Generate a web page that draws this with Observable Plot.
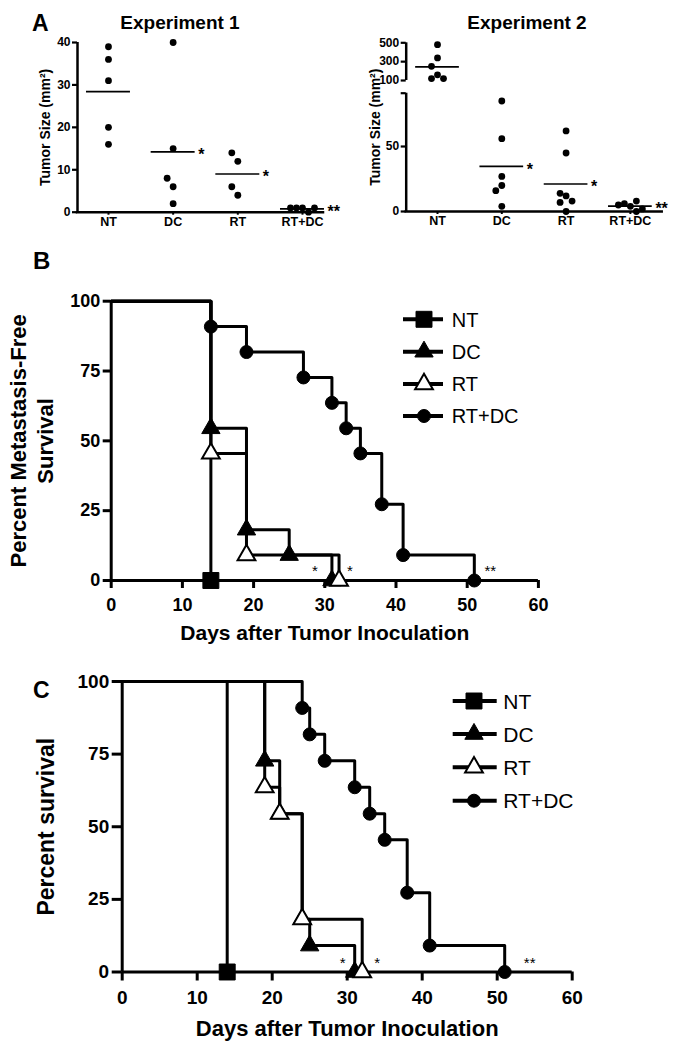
<!DOCTYPE html>
<html>
<head>
<meta charset="utf-8">
<title>Tumor size and survival</title>
<script src="https://cdn.jsdelivr.net/npm/d3@7"></script>
<script src="https://cdn.jsdelivr.net/npm/@observablehq/plot@0.6"></script>
<style>
  html, body { margin: 0; padding: 0; background: #fff; }
  #fig { position: relative; width: 687px; height: 1050px; overflow: hidden; background: #fff;
         font-family: "Liberation Sans", Arial, Helvetica, sans-serif; color: #000; }
  #fig > * { position: absolute; }
  .t { font-weight: bold; line-height: 1; white-space: nowrap; }
</style>
</head>
<body>
<div id="fig"></div>
<script>
// ---------------- data ----------------
const groups = ["NT", "DC", "RT", "RT+DC"];

// Panel A – Experiment 1: tumor size (mm²) of each mouse
const exp1NT   = [39, 36, 31, 20, 16];
const exp1DC   = [40, 15, 6, 2, 8];
const exp1RT   = [12, 4, 14, 6];
const exp1RTDC = [1, 1, 0, 1, 1];
const exp1Sig  = ["", "*", "*", "**"];
const exp1YTicks = [0, 10, 20, 30, 40];

// Panel A – Experiment 2
const exp2NT   = [480, 340, 250, 160, 120, 120];
const exp2DC   = [85, 56, 27, 20, 16, 4];
const exp2RT   = [62, 45, 12, 14, 8, 7, 0];
const exp2RTDC = [4, 6, 8, 5, 2, 0];
const exp2Sig  = ["", "*", "*", "**"];
const exp2YTicks = [0, 50, 100, 300, 500];
const exp2AxisBreak = [91, 100];   // lower axis segment ends / upper segment starts

// Panel B – metastasis-free survival (Kaplan–Meier steps)
const mfsNTDays   = [0, 14];
const mfsNTPct    = [100, 0];
const mfsDCDays   = [0, 14, 19, 25, 31];
const mfsDCPct    = [100, 54.5, 18.2, 9.1, 0];
const mfsRTDays   = [0, 14, 19, 32];
const mfsRTPct    = [100, 45.5, 9.1, 0];
const mfsRTDCDays = [0, 14, 19, 27, 31, 33, 35, 38, 41, 51];
const mfsRTDCPct  = [100, 90.9, 81.8, 72.7, 63.6, 54.5, 45.5, 27.3, 9.1, 0];
const mfsSig      = ["", "*", "*", "**"];

// Panel C – overall survival
const osNTDays   = [0, 14];
const osNTPct    = [100, 0];
const osDCDays   = [0, 19, 21, 24, 25, 31];
const osDCPct    = [100, 72.7, 54.5, 18.2, 9.1, 0];
const osRTDays   = [0, 19, 21, 24, 32];
const osRTPct    = [100, 63.6, 54.5, 18.2, 0];
const osRTDCDays = [0, 24, 25, 27, 31, 33, 35, 38, 41, 51];
const osRTDCPct  = [100, 90.9, 81.8, 72.7, 63.6, 54.5, 45.5, 27.3, 9.1, 0];
const osSig      = ["", "*", "*", "**"];

const survXTicks = [0, 10, 20, 30, 40, 50, 60];
const survYTicks = [0, 25, 50, 75, 100];

// ---------------- helpers ----------------
const FONT = '"Liberation Sans", Arial, Helvetica, sans-serif';
const fig = document.getElementById("fig");
function place(node, left, top) {
  node.style.left = left + "px";
  node.style.top = top + "px";
  fig.appendChild(node);
  return node;
}
function label(text, left, top, size, center) {
  const d = document.createElement("div");
  d.className = "t";
  d.textContent = text;
  d.style.fontSize = size + "px";
  if (center) d.style.transform = "translateX(-50%)";
  return place(d, left, top);
}

// side-by-side placement of dots whose values are too close (pixel space)
function jitterOffsets(pixYs, thresh = 9, step = 6) {
  const placed = [];
  const cands = [0];
  for (let j = 1; j < 12; j++) cands.push(-j, j);
  return pixYs.map(py => {
    const near = placed.filter(p => Math.abs(p.py - py) < thresh);
    const c = cands.find(c => !near.some(p => p.c === c));
    placed.push({py, c});
    return c * step;
  });
}

function scatterPanel(cfg) {
  const {values, sig, xDomain, yDomain, width, height, marginLeft, marginRight,
         marginTop, marginBottom, yTicks, hideTick, segments, yLabelDx} = cfg;
  const fwd = cfg.fwd ?? (v => v);
  const inv = cfg.inv ?? (v => v);
  const yPix = d3.scaleLinear().domain(yDomain).range([height - marginBottom, marginTop]);
  const pxPerUnit = (width - marginLeft - marginRight) / (xDomain[1] - xDomain[0]);
  const rows = [], means = [];
  values.forEach((vals, i) => {
    const offs = jitterOffsets(vals.map(v => yPix(fwd(v))));
    vals.forEach((v, j) => rows.push({i, v, x: i + offs[j] / pxPerUnit}));
    means.push({i, m: d3.mean(vals), s: sig[i]});
  });
  return Plot.plot({
    width, height, marginLeft, marginRight, marginTop, marginBottom,
    x: {domain: xDomain, label: null},
    y: {domain: yDomain, label: null},
    style: {background: "transparent", overflow: "visible", fontFamily: FONT,
            fontWeight: "bold", fontSize: "12px", color: "black"},
    marks: [
      Plot.ruleX(segments, {x: xDomain[0], y1: d => fwd(d.a), y2: d => fwd(d.b), strokeWidth: 2.5}),
      Plot.ruleY([0], {strokeWidth: 2.5, strokeLinecap: "square"}),
      Plot.axisY({ticks: yTicks.map(fwd), tickFormat: v => { const t = Math.round(inv(v)); return t === hideTick ? "" : t; },
                  tickSize: 5, tickPadding: 2, strokeWidth: 2.2, label: null, fontSize: 12}),
      Plot.axisX({ticks: [0, 1, 2, 3], tickFormat: i => groups[i], tickSize: 3, tickPadding: 2,
                  strokeWidth: 2, label: null, fontSize: 12.5}),
      Plot.dot(rows, {x: "x", y: d => fwd(d.v), r: 3.4, fill: "black", stroke: "none"}),
      Plot.ruleY(means, {x1: d => d.i - 0.34, x2: d => d.i + 0.34, y: d => fwd(d.m), strokeWidth: 1.7}),
      Plot.text(means, {x: "i", y: d => fwd(d.m), text: "s", dx: 25, dy: 3, textAnchor: "start",
                        fontSize: 16, fontWeight: "bold"}),
      Plot.text(["Tumor Size (mm²)"], {text: d => d, frameAnchor: "left", rotate: -90,
                                       textAnchor: "middle", lineAnchor: "middle",
                                       dx: yLabelDx, fontSize: 14, fontWeight: "bold"})
    ]
  });
}

const symStyle = {
  "NT":    {symbol: "square",   r: 9,   fill: "black", sw: 1},
  "DC":    {symbol: "triangle", r: 6.8, fill: "black", sw: 1},
  "RT":    {symbol: "triangle", r: 6.6, fill: "white", sw: 2},
  "RT+DC": {symbol: "circle",   r: 6.5, fill: "black", sw: 1}
};

function kmPanel(cfg) {
  const {series, sig, starDx, starDy, width, height, marginLeft, marginRight, marginTop, marginBottom,
         tickFont, yTickSize, yTickPad, xTickSize, xTickPad, yTitle, yTitleDx, yTitleSize,
         xTitleDy, xTitleSize} = cfg;
  const rows = series.flatMap((s, gi) => s.days.map((d, k) => ({g: groups[gi], gi, day: d, pct: s.pct[k], k, last: k === s.days.length - 1})));
  const dotMarks = groups.map(g => {
    const st = symStyle[g];
    return Plot.dot(rows.filter(d => d.g === g && d.k > 0),
      {x: "day", y: "pct", symbol: st.symbol, r: st.r, fill: st.fill, stroke: "black", strokeWidth: st.sw});
  });
  const starMarks = groups.map((g, gi) => Plot.text(rows.filter(d => d.g === g && d.last && sig[gi]),
      {x: "day", y: "pct", text: () => sig[gi], dx: starDx[gi], dy: starDy, fontSize: 15, fontWeight: "normal"}));
  return Plot.plot({
    width, height, marginLeft, marginRight, marginTop, marginBottom,
    x: {domain: [0, 60], label: null},
    y: {domain: [0, 100], label: null},
    style: {background: "transparent", overflow: "visible", fontFamily: FONT,
            fontWeight: "bold", fontSize: tickFont + "px", color: "black"},
    marks: [
      Plot.ruleX([0], {strokeWidth: 3}),
      Plot.ruleY([0], {strokeWidth: 3}),
      Plot.axisY({ticks: survYTicks, tickSize: yTickSize, tickPadding: yTickPad, strokeWidth: 3, label: null}),
      Plot.axisX({ticks: survXTicks, tickSize: xTickSize, tickPadding: xTickPad, strokeWidth: 3, label: null}),
      Plot.line(rows, {x: "day", y: "pct", z: "g", curve: "step-after", stroke: "black", strokeWidth: 3}),
      ...dotMarks,
      ...starMarks,
      Plot.text([yTitle], {text: d => d, frameAnchor: "left", rotate: -90, textAnchor: "middle",
                           lineAnchor: "middle", dx: yTitleDx,
                           fontSize: yTitleSize, lineHeight: 1.2, fontWeight: "bold"}),
      Plot.text(["Days after Tumor Inoculation"], {text: d => d, frameAnchor: "bottom", textAnchor: "middle",
                           lineAnchor: "middle", dy: xTitleDy, fontSize: xTitleSize, fontWeight: "bold"})
    ]
  });
}

// ---------------- panel A ----------------
label("A", 32, 12, 23);
label("Experiment 1", 180, 12.5, 19, true);
label("Experiment 2", 527, 12.5, 19, true);

place(scatterPanel({
  values: [exp1NT, exp1DC, exp1RT, exp1RTDC], sig: exp1Sig,
  xDomain: [-0.479, 3.325], yDomain: [0, 40],
  width: 345, height: 235, marginLeft: 77, marginRight: 22, marginTop: 42, marginBottom: 23.3,
  yTicks: exp1YTicks, hideTick: null,
  segments: [{a: 0, b: 40}], yLabelDx: -32
}), 0, 0);

// broken y axis: value -> plotted position (pixels above the x axis)
const exp2Break = d3.scaleLinear()
  .domain([0, exp2AxisBreak[0], exp2AxisBreak[1], 500])
  .range([0, 118.3, 131, 168.7]);
place(scatterPanel({
  values: [exp2NT, exp2DC, exp2RT, exp2RTDC], sig: exp2Sig,
  xDomain: [-0.487, 3.495], yDomain: [0, 168.7],
  fwd: v => exp2Break(v), inv: v => exp2Break.invert(v),
  width: 347, height: 235, marginLeft: 65.7, marginRight: 25.3, marginTop: 42.3, marginBottom: 24,
  yTicks: [...exp2YTicks, exp2AxisBreak[0]], hideTick: exp2AxisBreak[0],
  segments: [{a: 0, b: exp2AxisBreak[0]}, {a: exp2AxisBreak[1], b: 500}], yLabelDx: -30.7
}), 340, 0);

// ---------------- panel B ----------------
label("B", 33, 248.5, 24);
place(kmPanel({
  series: [{days: mfsNTDays, pct: mfsNTPct}, {days: mfsDCDays, pct: mfsDCPct},
           {days: mfsRTDays, pct: mfsRTPct}, {days: mfsRTDCDays, pct: mfsRTDCPct}],
  sig: mfsSig, starDx: [0, -17, 11, 16], starDy: -9.5,
  width: 687, height: 420, marginLeft: 110.7, marginRight: 149.1, marginTop: 60.7, marginBottom: 80,
  tickFont: 18, yTickSize: 8, yTickPad: 3, xTickSize: 8, xTickPad: 10,
  yTitle: "Percent Metastasis-Free\nSurvival", yTitleDx: -80, yTitleSize: 22,
  xTitleDy: 53, xTitleSize: 21
}), 0, 240);

// ---------------- panel C ----------------
label("C", 33, 678.7, 23);
place(kmPanel({
  series: [{days: osNTDays, pct: osNTPct}, {days: osDCDays, pct: osDCPct},
           {days: osRTDays, pct: osRTPct}, {days: osRTDCDays, pct: osRTDCPct}],
  sig: osSig, starDx: [0, -12, 15, 25], starDy: -8.5,
  width: 687, height: 390, marginLeft: 121.7, marginRight: 115.3, marginTop: 21, marginBottom: 78.5,
  tickFont: 19, yTickSize: 10, yTickPad: 3, xTickSize: 9, xTickPad: 9,
  yTitle: "Percent survival", yTitleDx: -76.7, yTitleSize: 23,
  xTitleDy: 56.5, xTitleSize: 22
}), 0, 660);

// ---------------- legends ----------------
const symType = {square: d3.symbolSquare, triangle: d3.symbolTriangle, circle: d3.symbolCircle};
const leg = d3.create("svg").attr("width", 687).attr("height", 1050)
  .style("overflow", "visible").style("pointer-events", "none");
function drawLegend(rowsY, x1, x2, mx, tx, fs) {
  groups.forEach((g, i) => {
    const y = rowsY[i], st = symStyle[g];
    leg.append("line").attr("x1", x1).attr("x2", x2).attr("y1", y).attr("y2", y)
      .attr("stroke", "black").attr("stroke-width", 4);
    leg.append("path").attr("d", d3.symbol(symType[st.symbol], Math.PI * st.r * st.r)())
      .attr("transform", `translate(${mx},${y})`)
      .attr("fill", st.fill).attr("stroke", "black").attr("stroke-width", st.sw);
    leg.append("text").attr("x", tx).attr("y", y).attr("dy", "0.36em")
      .attr("font-family", FONT).attr("font-size", fs).text(g);
  });
}
drawLegend([319.3, 351.7, 384, 416], 403, 443, 424, 451.7, 20);
drawLegend([701, 734, 767.3, 800.7], 452.7, 496.7, 474, 503.3, 21);
place(leg.node(), 0, 0);
</script>
</body>
</html>
